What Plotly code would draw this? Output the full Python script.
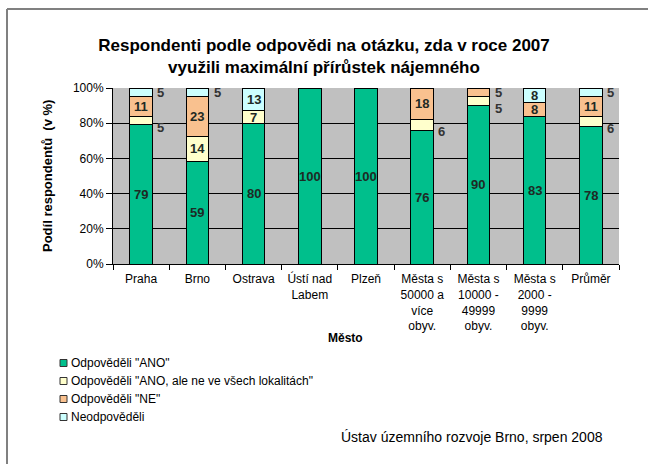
import plotly.graph_objects as go

# Survey: did respondents apply the maximum rent increase in 2007?
categories = [
    "Praha", "Brno", "Ostrava", "Ústí nad<br>Labem", "Plzeň",
    "Města s<br>50000 a<br>více<br>obyv.",
    "Města s<br>10000 -<br>49999<br>obyv.",
    "Města s<br>2000 -<br>9999<br>obyv.",
    "Průměr",
]
ano = [79, 59, 80, 100, 100, 76, 90, 83, 78]
ano_partial = [5, 14, 7, 0, 0, 6, 5, 0, 6]
ne = [11, 23, 0, 0, 0, 18, 5, 8, 11]
no_answer = [5, 5, 13, 0, 0, 0, 0, 8, 5]

series_names = [
    'Odpověděli "ANO"',
    'Odpověděli "ANO, ale ne ve všech lokalitách"',
    'Odpověděli "NE"',
    'Neodpověděli',
]
series_values = [ano, ano_partial, ne, no_answer]
series_colors = ["#00BF8C", "#FFFFCC", "#F9C18F", "#CCFFFF"]

FONT = "Liberation Sans, Arial, sans-serif"
W, H = 648, 464
L, R, T, B = 113, 29, 88, 200
PW, PH = W - L - R, H - T - B


def px_x(x):
    return (x - L) / PW


def px_y(y):
    return (H - B - y) / PH


x_idx = list(range(len(categories)))
totals = [sum(s[i] for s in series_values) for i in x_idx]

fig = go.Figure()

for name, vals, col in zip(series_names, series_values, series_colors):
    fig.add_trace(go.Bar(
        x=categories, y=vals, name=name,
        marker=dict(color=col, line=dict(color="#000000", width=1)),
        showlegend=False, hoverinfo="skip",
    ))

# value labels: inside the segment when it is tall enough, otherwise beside the bar
annotations = []
for i in x_idx:
    cum = 0.0
    for k, vals in enumerate(series_values):
        v = vals[i]
        share = v / totals[i] * 100
        if v > 0:
            center = cum + share / 2
            if v >= 7:
                annotations.append(dict(
                    x=i, y=center, xref="x", yref="y", text=f"<b>{v}</b>", showarrow=False,
                    font=dict(family=FONT, size=13, color="#1E2A24"),
                ))
            else:
                shift = -7 if k == 1 else 0
                annotations.append(dict(
                    x=i + 0.2, y=center, xref="x", yref="y", text=f"<b>{v}</b>", showarrow=False,
                    xanchor="left", xshift=3, yshift=shift,
                    font=dict(family=FONT, size=13, color="#333333"),
                ))
        cum += share

annotations += [
    dict(text="<b>Podíl respondentů  (v %)</b>", xref="paper", yref="paper",
         x=px_x(47), y=0.5, xanchor="center", yanchor="middle", textangle=-90,
         showarrow=False, font=dict(family=FONT, size=13, color="#000000")),
    dict(text="<b>Město</b>", xref="paper", yref="paper", x=px_x(345), y=px_y(338),
         xanchor="center", yanchor="middle",
         showarrow=False, font=dict(family=FONT, size=12, color="#000000")),
    dict(text="Ústav územního rozvoje Brno, srpen 2008", xref="paper", yref="paper",
         x=px_x(605), y=px_y(437), xanchor="right", yanchor="middle", showarrow=False,
         font=dict(family=FONT, size=14, color="#000000")),
]

# legend: small outlined swatches followed by the series names
shapes = []
for j, (name, col) in enumerate(zip(series_names, series_colors)):
    cy = 363 + 18 * j
    shapes.append(dict(type="rect", xref="paper", yref="paper",
                       x0=px_x(60), x1=px_x(67), y0=px_y(cy - 3.5), y1=px_y(cy + 3.5),
                       fillcolor=col, line=dict(color="#333333", width=1)))
    annotations.append(dict(text=name, xref="paper", yref="paper", x=px_x(69), y=px_y(cy),
                            xanchor="left", yanchor="middle", showarrow=False,
                            font=dict(family=FONT, size=12, color="#000000")))

# outer frame (left and top edges)
shapes += [
    dict(type="line", xref="paper", yref="paper",
         x0=px_x(7), x1=px_x(7), y0=px_y(9), y1=px_y(470),
         line=dict(color="#808080", width=2)),
    dict(type="line", xref="paper", yref="paper",
         x0=px_x(7), x1=px_x(650), y0=px_y(9), y1=px_y(9),
         line=dict(color="#808080", width=2)),
]

fig.update_layout(
    width=W, height=H,
    margin=dict(l=L, r=R, t=T, b=B),
    paper_bgcolor="#FFFFFF", plot_bgcolor="#C0C0C0",
    barmode="stack", barnorm="percent", bargap=0.6,
    showlegend=False,
    title=dict(
        text="<b>Respondenti podle odpovědi na otázku, zda v roce 2007<br>využili maximální přírůstek nájemného</b>",
        x=0.5, xanchor="center", y=1 - 51 / H, yanchor="middle", yref="container",
        font=dict(family=FONT, size=17, color="#000000"),
    ),
    xaxis=dict(
        type="category", tickson="boundaries",
        range=[-0.5, len(categories) - 0.5],
        showgrid=False, showline=True, linecolor="#000000", linewidth=1,
        ticks="outside", ticklen=5, tickcolor="#000000",
        tickfont=dict(family=FONT, size=12, color="#000000"),
        ticklabelstandoff=4,
    ),
    yaxis=dict(
        range=[0, 100], tickvals=[0, 20, 40, 60, 80, 100],
        ticktext=["0%", "20%", "40%", "60%", "80%", "100%"],
        showgrid=True, gridcolor="#000000", gridwidth=1,
        showline=True, linecolor="#000000", linewidth=1,
        ticks="outside", ticklen=6, tickcolor="#000000",
        tickfont=dict(family=FONT, size=12, color="#000000"),
        zeroline=False,
    ),
    annotations=annotations,
    shapes=shapes,
)

fig.write_html("out.html")
